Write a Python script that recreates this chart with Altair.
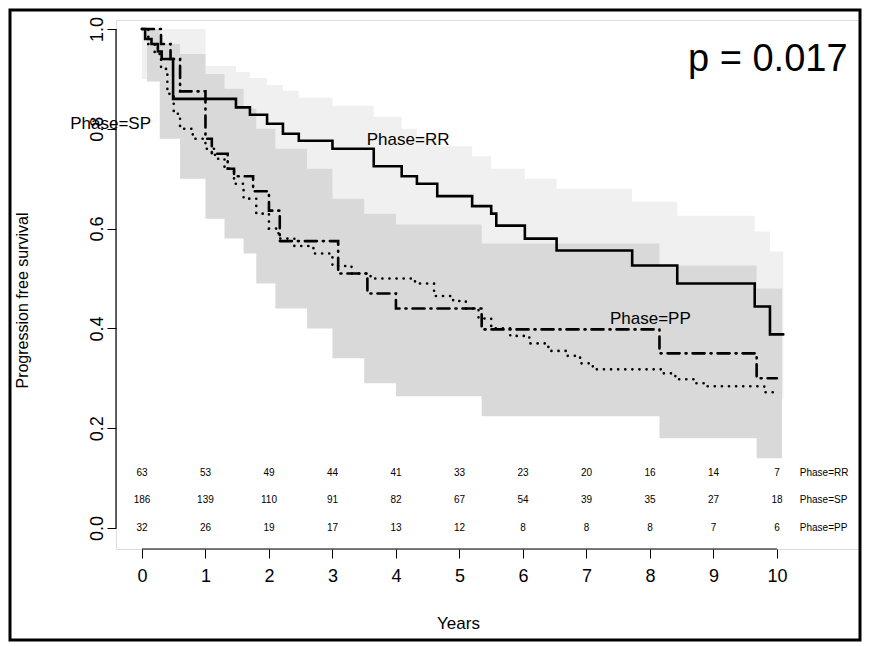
import pandas as pd
import altair as alt

FONT = "Liberation Sans"

# Kaplan-Meier step curves (years, survival)
rr_t = [0, 0.05, 0.15, 0.25, 0.31, 0.49, 1.48, 1.70, 1.97, 2.22, 2.47, 3.0, 3.65, 4.09, 4.33, 4.65, 5.2, 5.5, 5.58, 6.03, 6.53, 7.72, 8.43, 9.65, 9.89, 10.1]
rr_s = [1.0, 0.98, 0.97, 0.955, 0.94, 0.86, 0.843, 0.828, 0.81, 0.79, 0.776, 0.76, 0.725, 0.705, 0.69, 0.665, 0.645, 0.63, 0.606, 0.58, 0.556, 0.526, 0.49, 0.444, 0.388, 0.388]

sp_t = [0, 0.1, 0.2, 0.3, 0.4, 0.5, 0.6, 0.8, 1.0, 1.15, 1.3, 1.45, 1.6, 1.8, 2.0, 2.15, 2.4, 2.7, 3.0, 3.3, 3.6, 4.0, 4.3, 4.6, 4.9, 5.1, 5.3, 5.5, 5.8, 6.1, 6.4, 6.7, 6.9, 7.1, 8.2, 8.4, 8.7, 8.9, 9.8, 9.95]
sp_s = [1.0, 0.97, 0.95, 0.92, 0.87, 0.83, 0.80, 0.78, 0.76, 0.74, 0.72, 0.69, 0.66, 0.63, 0.60, 0.58, 0.565, 0.55, 0.525, 0.51, 0.50, 0.50, 0.49, 0.465, 0.455, 0.44, 0.42, 0.40, 0.385, 0.37, 0.355, 0.345, 0.33, 0.318, 0.31, 0.298, 0.29, 0.284, 0.272, 0.272]

pp_t = [0, 0.3, 0.45, 0.6, 1.0, 1.1, 1.35, 1.45, 1.75, 2.0, 2.17, 3.09, 3.55, 4.0, 5.35, 8.15, 9.68, 10.0]
pp_s = [1.0, 0.97, 0.94, 0.875, 0.78, 0.75, 0.72, 0.705, 0.675, 0.636, 0.575, 0.51, 0.47, 0.44, 0.398, 0.35, 0.30, 0.30]

# confidence bands
rr_band_t = [0, 1.0, 1.48, 1.70, 1.97, 2.22, 2.47, 3.0, 3.65, 4.09, 4.33, 4.65, 5.2, 5.5, 6.03, 6.53, 7.72, 8.43, 9.65, 9.89, 10.1]
rr_band_hi = [1.0, 0.926, 0.914, 0.902, 0.888, 0.876, 0.862, 0.846, 0.824, 0.80, 0.785, 0.765, 0.745, 0.72, 0.70, 0.68, 0.654, 0.626, 0.594, 0.554, 0.554]
rr_band_lo = [0.90, 0.74, 0.72, 0.70, 0.68, 0.66, 0.65, 0.63, 0.60, 0.58, 0.56, 0.54, 0.52, 0.50, 0.47, 0.44, 0.40, 0.36, 0.32, 0.26, 0.26]

pp_band_t = [0.08, 0.28, 0.6, 1.0, 1.3, 1.6, 1.8, 2.1, 2.6, 3.0, 3.5, 4.0, 5.35, 8.15, 9.68, 10.08]
pp_band_hi = [1.0, 0.97, 0.95, 0.91, 0.88, 0.84, 0.80, 0.76, 0.72, 0.66, 0.63, 0.608, 0.57, 0.526, 0.48, 0.48]
pp_band_lo = [0.895, 0.78, 0.70, 0.62, 0.58, 0.55, 0.49, 0.44, 0.40, 0.34, 0.29, 0.264, 0.224, 0.18, 0.14, 0.14]

# numbers at risk
risk_years = list(range(11))
risk_rr = [63, 53, 49, 44, 41, 33, 23, 20, 16, 14, 7]
risk_sp = [186, 139, 110, 91, 82, 67, 54, 39, 35, 27, 18]
risk_pp = [32, 26, 19, 17, 13, 12, 8, 8, 8, 7, 6]
risk_groups = ["Phase=RR", "Phase=SP", "Phase=PP"]
risk_rows_y = [0.11, 0.056, 0.0]

x_ticks = list(range(11))
y_ticks = [0.0, 0.2, 0.4, 0.6, 0.8, 1.0]

W, H = 744, 529
xs = alt.Scale(domain=[-0.409, 11.308], nice=False, zero=False)
ys = alt.Scale(domain=[-0.042, 1.018], nice=False, zero=False)

X = alt.X("t:Q", scale=xs, axis=alt.Axis(
    values=x_ticks, domain=False, grid=False, tickSize=9, tickColor="black",
    labelFontSize=18, labelPadding=9, labelFont=FONT, labelColor="black",
    title="Years", titleFontSize=17, titleFont=FONT, titleFontWeight="normal",
    titleX=342, titleY=66, titleColor="black"))
Y = alt.Y("s:Q", scale=ys, axis=alt.Axis(
    values=y_ticks, format=".1f", domain=False, grid=False, tickSize=9, tickColor="black",
    labelFontSize=18, labelAngle=270, labelAlign="center", labelBaseline="bottom",
    labelPadding=1, labelFont=FONT, labelColor="black",
    title="Progression free survival", titleFontSize=16, titleFont=FONT,
    titleFontWeight="normal", titleX=-86, titleY=280, titleColor="black"))


def band(t, lo, hi, color):
    df = pd.DataFrame({"t": t, "s": lo, "s2": hi})
    return alt.Chart(df).mark_area(interpolate="step-after", color=color, opacity=1).encode(
        x=X, y=Y, y2="s2")


def curve(t, s, dash):
    df = pd.DataFrame({"t": t, "s": s})
    return alt.Chart(df).mark_line(interpolate="step-after", color="black", strokeWidth=2.6,
                                   strokeDash=dash, strokeCap="round").encode(x=X, y=Y)


light = band(rr_band_t, rr_band_lo, rr_band_hi, "#f0f0f0")
dark = band(pp_band_t, pp_band_lo, pp_band_hi, "#d9d9d9")
rr_line = curve(rr_t, rr_s, [1, 0])
sp_line = curve(sp_t, sp_s, [0.1, 7])
pp_line = curve(pp_t, pp_s, [12, 6, 1, 6])

labels = pd.DataFrame({"t": [-1.13, 3.54, 7.37, 8.6],
                       "s": [0.81, 0.778, 0.418, 0.938],
                       "txt": ["Phase=SP", "Phase=RR", "Phase=PP", "p = 0.017"],
                       "size": [17, 17, 17, 38]})
label_text = alt.Chart(labels).mark_text(align="left", baseline="middle", font=FONT,
                                         color="black").encode(
    x=X, y=Y, text="txt:N", size=alt.Size("size:Q", scale=None, legend=None))

rows = []
for g, vals, yy in zip(risk_groups, [risk_rr, risk_sp, risk_pp], risk_rows_y):
    for yr, v in zip(risk_years, vals):
        rows.append({"t": yr, "s": yy, "txt": str(v)})
risk_df = pd.DataFrame(rows)
risk_text = alt.Chart(risk_df).mark_text(fontSize=10, font=FONT, color="black").encode(
    x=X, y=Y, text="txt:N")
grp_df = pd.DataFrame({"t": [10.36] * 3, "s": risk_rows_y, "txt": risk_groups})
grp_text = alt.Chart(grp_df).mark_text(fontSize=10, font=FONT, color="black", align="left").encode(
    x=X, y=Y, text="txt:N")

x_line = alt.Chart(pd.DataFrame({"t": [x_ticks[0]], "t2": [x_ticks[-1]]})).mark_rule(
    color="black", strokeWidth=1.2).encode(x=X, x2="t2", y=alt.value(H))
y_line = alt.Chart(pd.DataFrame({"s": [y_ticks[0]], "s2": [y_ticks[-1]]})).mark_rule(
    color="black", strokeWidth=1.2).encode(y=Y, y2="s2", x=alt.value(0))
frame = alt.Chart(pd.DataFrame({"k": [0]})).mark_rect(
    filled=False, stroke="black", strokeWidth=3, clip=False).encode(
    x=alt.value(-106), x2=alt.value(744), y=alt.value(-10), y2=alt.value(620))

chart = alt.layer(
    light, dark, rr_line, sp_line, pp_line, label_text, risk_text, grp_text,
    x_line, y_line, frame
).properties(
    width=W, height=H,
    autosize=alt.AutoSizeParams(type="none"),
    padding={"left": 108, "top": 12, "right": 2, "bottom": 95},
).configure_view(stroke=None).configure(background="white")

chart.save("out.html", embed_options={"renderer": "svg", "actions": False})
